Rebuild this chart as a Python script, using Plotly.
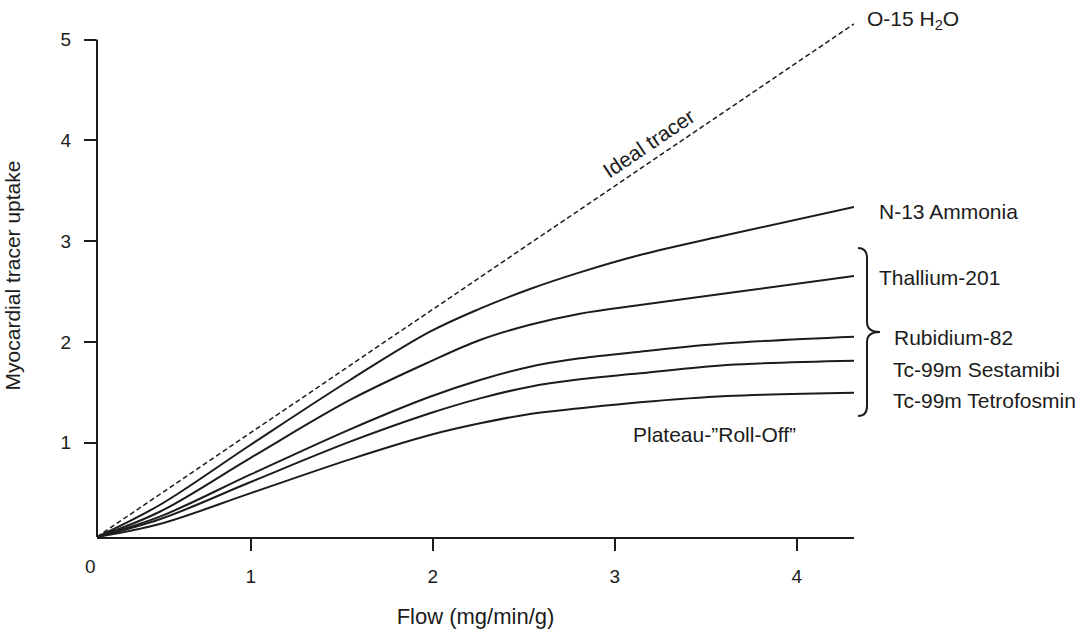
import plotly.graph_objects as go

# ---------------- data ----------------
flow = [0.155, 0.5, 1.0, 1.546, 1.985, 2.26, 2.535, 2.809, 3.139, 3.615, 4.315]
n13_ammonia = [0.065, 0.382, 0.98, 1.622, 2.101, 2.33, 2.525, 2.69, 2.862, 3.06, 3.338]
thallium_201 = [0.065, 0.315, 0.85, 1.424, 1.804, 2.019, 2.17, 2.28, 2.366, 2.482, 2.654]
rubidium_82 = [0.065, 0.266, 0.685, 1.133, 1.456, 1.622, 1.754, 1.837, 1.903, 1.986, 2.052]
tc99m_sestamibi = [0.065, 0.24, 0.61, 1.01, 1.292, 1.440, 1.556, 1.629, 1.688, 1.771, 1.814]
tc99m_tetrofosmin = [0.065, 0.193, 0.50, 0.835, 1.076, 1.192, 1.285, 1.341, 1.401, 1.463, 1.496]

ideal_flow = [0.155, 4.315]
ideal_uptake = [0.065, 5.155]

x_ticks = [1, 2, 3, 4]
y_ticks = [1, 2, 3, 4, 5]

curve_labels = ["N-13 Ammonia", "Thallium-201", "Rubidium-82",
                "Tc-99m Sestamibi", "Tc-99m Tetrofosmin"]

# ---------------- figure ----------------
W, H = 1085, 640
ML, MR, MT, MB = 97, 231, 14, 103
PW, PH = W - ML - MR, H - MT - MB
INK = "#1c1c1c"
FONT = "Liberation Sans, Arial, Helvetica, sans-serif"


def px(xp):
    return (xp - ML) / PW


def py(yp):
    return (H - MB - yp) / PH


fig = go.Figure()

fig.add_trace(go.Scatter(x=ideal_flow, y=ideal_uptake, mode="lines",
                         line=dict(color=INK, width=1.5, dash="5px,3px"),
                         hoverinfo="skip", name="Ideal tracer"))

for name, vals in zip(curve_labels,
                      [n13_ammonia, thallium_201, rubidium_82,
                       tc99m_sestamibi, tc99m_tetrofosmin]):
    fig.add_trace(go.Scatter(x=flow, y=vals, mode="lines", name=name,
                             line=dict(color=INK, width=2, shape="spline",
                                       smoothing=1.0),
                             hoverinfo="skip"))

# y axis line (stops at 5)
fig.add_shape(type="line", xref="paper", yref="y", x0=0, x1=0,
              y0=0.0645, y1=5, line=dict(color=INK, width=2), layer="above")

# curly brace grouping the tracers
brace = ("M {a},{t} Q {b},{t} {b},{t2} L {b},{m1} Q {b},{m} {c},{m} "
         "Q {b},{m} {b},{m2} L {b},{b2} Q {b},{bt} {a},{bt}").format(
    a=px(858), b=px(867), c=px(880),
    t=py(248), t2=py(258), m1=py(322), m=py(332), m2=py(342),
    b2=py(406), bt=py(416))
fig.add_shape(type="path", xref="paper", yref="paper", path=brace,
              line=dict(color=INK, width=2))

ann_font = dict(family=FONT, size=21, color=INK)
labels = [
    ("O-15 H<sub>2</sub>O", 865, 20),
    ("N-13 Ammonia", 877, 211),
    ("Thallium-201", 877, 277),
    ("Rubidium-82", 892, 337),
    ("Tc-99m Sestamibi", 891, 369),
    ("Tc-99m Tetrofosmin", 891, 400),
]
for text, xp, yp in labels:
    fig.add_annotation(text=text, xref="paper", yref="paper", x=px(xp), y=py(yp),
                       xanchor="left", yanchor="middle", showarrow=False,
                       font=ann_font)

fig.add_annotation(text="Plateau-\u201dRoll-Off\u201d", xref="paper", yref="paper",
                   x=px(714), y=py(434), xanchor="center", yanchor="middle",
                   showarrow=False, font=ann_font)
fig.add_annotation(text="Ideal tracer", xref="paper", yref="paper",
                   x=px(648), y=py(143), xanchor="center", yanchor="middle",
                   textangle=-34, showarrow=False, font=ann_font)
fig.add_annotation(text="0", xref="paper", yref="paper", x=px(90), y=py(566),
                   xanchor="center", yanchor="middle", showarrow=False,
                   font=dict(family=FONT, size=19, color=INK))

fig.update_layout(
    width=W, height=H,
    margin=dict(l=ML, r=MR, t=MT, b=MB, autoexpand=False),
    paper_bgcolor="white", plot_bgcolor="white",
    showlegend=False,
    font=dict(family=FONT, size=19, color=INK),
    xaxis=dict(range=[0.1555, 4.315], showgrid=False, zeroline=False,
               showline=True, linecolor=INK, linewidth=2,
               ticks="outside", ticklen=12, tickwidth=2, tickcolor=INK,
               tickvals=x_ticks, ticklabelstandoff=9,
               tickfont=dict(family=FONT, size=19, color=INK),
               title=dict(text="Flow (mg/min/g)", standoff=23,
                          font=dict(family=FONT, size=22, color=INK))),
    yaxis=dict(range=[0.0645, 5.253], showgrid=False, zeroline=False,
               showline=False,
               ticks="outside", ticklen=12, tickwidth=2, tickcolor=INK,
               tickvals=y_ticks, ticklabelstandoff=9,
               tickfont=dict(family=FONT, size=19, color=INK),
               title=dict(text="Myocardial tracer uptake", standoff=34,
                          font=dict(family=FONT, size=21, color=INK))),
)

fig.write_html("out.html",
               config={"displayModeBar": False},
               post_script="document.body.style.margin='0';"
                           "document.body.style.padding='0';")
